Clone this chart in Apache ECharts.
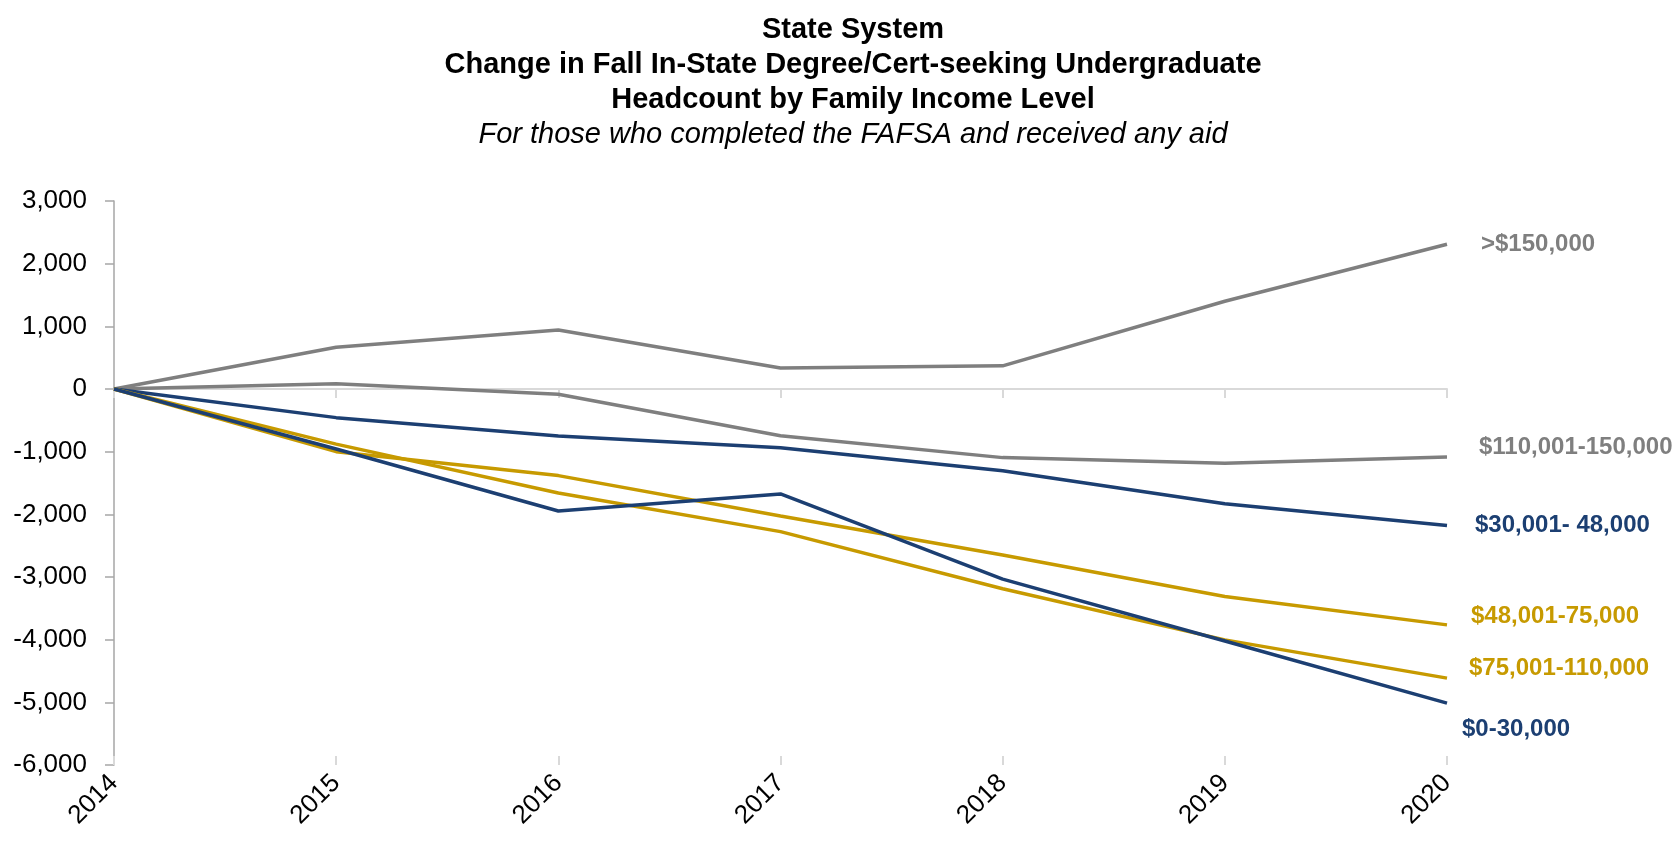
<!DOCTYPE html>
<html>
<head>
<meta charset="utf-8">
<title>State System – Change in Headcount by Family Income Level</title>
<script src="https://cdn.jsdelivr.net/npm/echarts@6/dist/echarts.min.js"></script>
<style>
  html, body { margin: 0; padding: 0; background: #ffffff; }
  #chart { width: 1676px; height: 845px; }
</style>
</head>
<body>
<div id="chart"></div>
<script>
// Fall terms on the category axis
const years = ['2014', '2015', '2016', '2017', '2018', '2019', '2020'];

// Change in headcount relative to 2014, by family income level
const over150k      = [0, 665, 940, 335, 370, 1400, 2310];
const from110to150k = [0, 85, -85, -745, -1095, -1185, -1085];
const from30to48k   = [0, -457, -750, -936, -1303, -1830, -2180];
const from48to75k   = [0, -1000, -1382, -2026, -2650, -3312, -3764];
const from75to110k  = [0, -880, -1660, -2276, -3187, -4003, -4614];
const from0to30k    = [0, -958, -1946, -1675, -3034, -4022, -5013];

// Value-axis range
const yMin = -6000, yMax = 3000, yStep = 1000;

const GRAY = '#7f7f7f';
const NAVY = '#1c3f72';
const GOLD = '#c79a00';

const FONT = '"Liberation Sans", Arial, sans-serif';

function line(name, data, color, labelOffset) {
  return {
    name: name,
    type: 'line',
    data: data,
    xAxisIndex: 0,
    symbol: 'none',
    lineStyle: { color: color, width: 3.5 },
    itemStyle: { color: color },
    z: 3,
    endLabel: {
      show: true,
      formatter: name,
      color: color,
      fontFamily: FONT,
      fontWeight: 'bold',
      fontSize: 24,
      distance: 0,
      offset: labelOffset
    }
  };
}

const chart = echarts.init(document.getElementById('chart'), null, { renderer: 'canvas' });

chart.setOption({
  animation: false,
  backgroundColor: '#ffffff',
  title: {
    text: 'State System\nChange in Fall In-State Degree/Cert-seeking Undergraduate\nHeadcount by Family Income Level',
    subtext: 'For those who completed the FAFSA and received any aid',
    left: 848,
    textAlign: 'center',
    top: 7,
    itemGap: 0,
    textStyle: {
      fontFamily: FONT,
      fontWeight: 'bold',
      fontSize: 29,
      lineHeight: 35,
      color: '#000000'
    },
    subtextStyle: {
      fontFamily: FONT,
      fontStyle: 'italic',
      fontSize: 29,
      lineHeight: 35,
      color: '#000000'
    }
  },
  grid: { left: 114, right: 229, top: 201, bottom: 80, containLabel: false },
  xAxis: [
    {
      // year labels along the bottom of the plot
      type: 'category',
      data: years,
      boundaryGap: false,
      position: 'bottom',
      axisLine: { show: false, onZero: false },
      axisTick: { show: false },
      splitLine: { show: false },
      axisLabel: {
        rotate: 45,
        margin: 14,
        fontFamily: FONT,
        fontSize: 26,
        color: '#000000',
        interval: 0
      }
    },
    {
      // zero line with downward ticks
      type: 'category',
      data: years,
      boundaryGap: false,
      position: 'bottom',
      axisLine: { show: true, onZero: true, lineStyle: { color: '#d9d9d9', width: 2 } },
      axisTick: { show: true, length: 9, interval: 0, lineStyle: { color: '#d9d9d9', width: 2 } },
      axisLabel: { show: false },
      splitLine: { show: false }
    },
    {
      // upward ticks on the zero line
      type: 'category',
      data: years,
      boundaryGap: false,
      position: 'bottom',
      axisLine: { show: false, onZero: true },
      axisTick: { show: true, inside: true, length: 9, interval: 0, lineStyle: { color: '#d9d9d9', width: 2 } },
      axisLabel: { show: false },
      splitLine: { show: false }
    }
  ],
  yAxis: {
    type: 'value',
    min: yMin,
    max: yMax,
    interval: yStep,
    axisLine: { show: true, lineStyle: { color: '#a6a6a6', width: 1.5 } },
    axisTick: { show: true, length: 9, lineStyle: { color: '#a6a6a6', width: 1.5 } },
    splitLine: { show: false },
    axisLabel: {
      margin: 27,
      fontFamily: FONT,
      fontSize: 26,
      color: '#000000',
      formatter: function (v) { return v.toLocaleString('en-US'); }
    }
  },
  series: [
    line('>$150,000', over150k, GRAY, [34, 0]),
    line('$110,001-150,000', from110to150k, GRAY, [32, -10]),
    line('$30,001- 48,000', from30to48k, NAVY, [28, 0]),
    line('$48,001-75,000', from48to75k, GOLD, [24, -9]),
    line('$75,001-110,000', from75to110k, GOLD, [22, -10]),
    line('$0-30,000', from0to30k, NAVY, [15, 26])
  ]
});
</script>
</body>
</html>
